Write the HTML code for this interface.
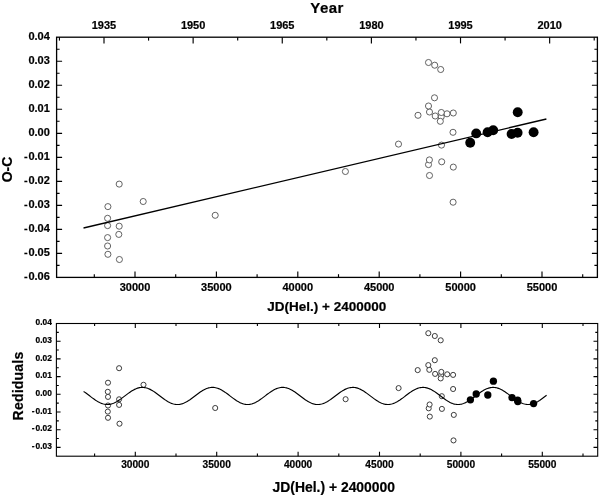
<!DOCTYPE html><html><head><meta charset="utf-8"><title>O-C diagram</title><style>html,body{margin:0;padding:0;background:#fff}svg{display:block}text{font-family:"Liberation Sans",Arial,sans-serif;font-weight:bold;fill:#000;stroke:#000;stroke-width:0.2px;stroke-linejoin:round}</style></head><body>
<svg width="600" height="496" viewBox="0 0 600 496">
<rect width="600" height="496" fill="#fff"/>
<g stroke="#000" stroke-width="1.3" fill="none" stroke-linecap="butt">
<rect x="56.6" y="37.2" width="540.8" height="240.2"/>
<path stroke-width="1.15" d="M56.6 265.41h3M597.4 265.41h-3"/>
<path stroke-width="1.15" d="M56.6 253.40h5.5M597.4 253.40h-5.5"/>
<path stroke-width="1.15" d="M56.6 241.39h3M597.4 241.39h-3"/>
<path stroke-width="1.15" d="M56.6 229.38h5.5M597.4 229.38h-5.5"/>
<path stroke-width="1.15" d="M56.6 217.37h3M597.4 217.37h-3"/>
<path stroke-width="1.15" d="M56.6 205.36h5.5M597.4 205.36h-5.5"/>
<path stroke-width="1.15" d="M56.6 193.35h3M597.4 193.35h-3"/>
<path stroke-width="1.15" d="M56.6 181.34h5.5M597.4 181.34h-5.5"/>
<path stroke-width="1.15" d="M56.6 169.33h3M597.4 169.33h-3"/>
<path stroke-width="1.15" d="M56.6 157.32h5.5M597.4 157.32h-5.5"/>
<path stroke-width="1.15" d="M56.6 145.31h3M597.4 145.31h-3"/>
<path stroke-width="1.15" d="M56.6 133.30h5.5M597.4 133.30h-5.5"/>
<path stroke-width="1.15" d="M56.6 121.29h3M597.4 121.29h-3"/>
<path stroke-width="1.15" d="M56.6 109.28h5.5M597.4 109.28h-5.5"/>
<path stroke-width="1.15" d="M56.6 97.27h3M597.4 97.27h-3"/>
<path stroke-width="1.15" d="M56.6 85.26h5.5M597.4 85.26h-5.5"/>
<path stroke-width="1.15" d="M56.6 73.25h3M597.4 73.25h-3"/>
<path stroke-width="1.15" d="M56.6 61.24h5.5M597.4 61.24h-5.5"/>
<path stroke-width="1.15" d="M56.6 49.23h3M597.4 49.23h-3"/>
<path stroke-width="1.15" d="M94.30 277.4v-3.2"/>
<path stroke-width="1.15" d="M135.00 277.4v-6"/>
<path stroke-width="1.15" d="M175.70 277.4v-3.2"/>
<path stroke-width="1.15" d="M216.40 277.4v-6"/>
<path stroke-width="1.15" d="M257.10 277.4v-3.2"/>
<path stroke-width="1.15" d="M297.80 277.4v-6"/>
<path stroke-width="1.15" d="M338.50 277.4v-3.2"/>
<path stroke-width="1.15" d="M379.20 277.4v-6"/>
<path stroke-width="1.15" d="M419.90 277.4v-3.2"/>
<path stroke-width="1.15" d="M460.60 277.4v-6"/>
<path stroke-width="1.15" d="M501.30 277.4v-3.2"/>
<path stroke-width="1.15" d="M542.00 277.4v-6"/>
<path stroke-width="1.15" d="M582.70 277.4v-3.2"/>
<path stroke-width="1.15" d="M59.44 37.2v3.4"/>
<path stroke-width="1.15" d="M104.00 37.2v6.2"/>
<path stroke-width="1.15" d="M148.56 37.2v3.4"/>
<path stroke-width="1.15" d="M193.13 37.2v6.2"/>
<path stroke-width="1.15" d="M237.69 37.2v3.4"/>
<path stroke-width="1.15" d="M282.26 37.2v6.2"/>
<path stroke-width="1.15" d="M326.82 37.2v3.4"/>
<path stroke-width="1.15" d="M371.39 37.2v6.2"/>
<path stroke-width="1.15" d="M415.95 37.2v3.4"/>
<path stroke-width="1.15" d="M460.52 37.2v6.2"/>
<path stroke-width="1.15" d="M505.08 37.2v3.4"/>
<path stroke-width="1.15" d="M549.65 37.2v6.2"/>
<path stroke-width="1.15" d="M594.21 37.2v3.4"/>
</g>
<text x="49.8" y="280.37" font-size="11.0" text-anchor="end"><tspan>-</tspan><tspan dx="0.7">0.06</tspan></text>
<text x="49.8" y="256.33" font-size="11.0" text-anchor="end"><tspan>-</tspan><tspan dx="0.7">0.05</tspan></text>
<text x="49.8" y="232.28" font-size="11.0" text-anchor="end"><tspan>-</tspan><tspan dx="0.7">0.04</tspan></text>
<text x="49.8" y="208.24" font-size="11.0" text-anchor="end"><tspan>-</tspan><tspan dx="0.7">0.03</tspan></text>
<text x="49.8" y="184.19" font-size="11.0" text-anchor="end"><tspan>-</tspan><tspan dx="0.7">0.02</tspan></text>
<text x="49.8" y="160.15" font-size="11.0" text-anchor="end"><tspan>-</tspan><tspan dx="0.7">0.01</tspan></text>
<text x="49.8" y="136.10" font-size="11.0" text-anchor="end">0.00</text>
<text x="49.8" y="112.06" font-size="11.0" text-anchor="end">0.01</text>
<text x="49.8" y="88.01" font-size="11.0" text-anchor="end">0.02</text>
<text x="49.8" y="63.97" font-size="11.0" text-anchor="end">0.03</text>
<text x="49.8" y="39.92" font-size="11.0" text-anchor="end">0.04</text>
<text x="135.00" y="291.3" font-size="11.0" text-anchor="middle">30000</text>
<text x="216.40" y="291.3" font-size="11.0" text-anchor="middle">35000</text>
<text x="297.80" y="291.3" font-size="11.0" text-anchor="middle">40000</text>
<text x="379.20" y="291.3" font-size="11.0" text-anchor="middle">45000</text>
<text x="460.60" y="291.3" font-size="11.0" text-anchor="middle">50000</text>
<text x="542.00" y="291.3" font-size="11.0" text-anchor="middle">55000</text>
<text x="104.00" y="28.6" font-size="11.0" text-anchor="middle">1935</text>
<text x="193.13" y="28.6" font-size="11.0" text-anchor="middle">1950</text>
<text x="282.26" y="28.6" font-size="11.0" text-anchor="middle">1965</text>
<text x="371.39" y="28.6" font-size="11.0" text-anchor="middle">1980</text>
<text x="460.52" y="28.6" font-size="11.0" text-anchor="middle">1995</text>
<text x="549.65" y="28.6" font-size="11.0" text-anchor="middle">2010</text>
<text x="327" y="12.8" font-size="15" letter-spacing="0.4" text-anchor="middle">Year</text>
<text x="326.8" y="311.2" font-size="13.5" text-anchor="middle">JD(Hel.) + 2400000</text>
<text transform="translate(12.2,169.5) rotate(-90)" font-size="14" text-anchor="middle">O-C</text>
<g stroke="#484848" stroke-width="0.85" fill="#fff">
<circle cx="441.2" cy="116.8" r="3.05"/>
<circle cx="119.4" cy="259.5" r="3.05"/>
<circle cx="107.9" cy="254.3" r="3.05"/>
<circle cx="107.6" cy="246" r="3.05"/>
<circle cx="107.6" cy="237.6" r="3.05"/>
<circle cx="118.8" cy="234.4" r="3.05"/>
<circle cx="119.2" cy="226.2" r="3.05"/>
<circle cx="107.6" cy="225.6" r="3.05"/>
<circle cx="107.6" cy="218.3" r="3.05"/>
<circle cx="215.2" cy="215.3" r="3.05"/>
<circle cx="107.9" cy="206.6" r="3.05"/>
<circle cx="453.1" cy="202.2" r="3.05"/>
<circle cx="143.2" cy="201.5" r="3.05"/>
<circle cx="119.2" cy="184.1" r="3.05"/>
<circle cx="429.5" cy="175.5" r="3.05"/>
<circle cx="345.4" cy="171.5" r="3.05"/>
<circle cx="453.3" cy="167.1" r="3.05"/>
<circle cx="428.5" cy="164.6" r="3.05"/>
<circle cx="441.7" cy="161.8" r="3.05"/>
<circle cx="429.4" cy="159.9" r="3.05"/>
<circle cx="441.5" cy="145.1" r="3.05"/>
<circle cx="398.5" cy="144.1" r="3.05"/>
<circle cx="453" cy="132.3" r="3.05"/>
<circle cx="440.3" cy="121.3" r="3.05"/>
<circle cx="435.2" cy="116" r="3.05"/>
<circle cx="418" cy="115.3" r="3.05"/>
<circle cx="447" cy="113.8" r="3.05"/>
<circle cx="453.3" cy="113" r="3.05"/>
<circle cx="441.3" cy="112.5" r="3.05"/>
<circle cx="429.5" cy="112" r="3.05"/>
<circle cx="428.5" cy="106" r="3.05"/>
<circle cx="434.5" cy="97.8" r="3.05"/>
<circle cx="440.7" cy="69.5" r="3.05"/>
<circle cx="434.7" cy="65.2" r="3.05"/>
<circle cx="428.5" cy="62.5" r="3.05"/>
</g>
<path d="M83.5 228L546.4 119" stroke="#000" stroke-width="1.35" fill="none"/>
<g fill="#000">
<circle cx="470.2" cy="142.8" r="4.95"/>
<circle cx="476.2" cy="133.4" r="4.95"/>
<circle cx="487.6" cy="132.2" r="4.95"/>
<circle cx="493.2" cy="130.2" r="4.95"/>
<circle cx="511.6" cy="134" r="4.95"/>
<circle cx="517.6" cy="132.8" r="4.95"/>
<circle cx="517.7" cy="112.2" r="4.95"/>
<circle cx="533.6" cy="132.2" r="4.95"/>
</g>
<g stroke="#000" stroke-width="1.1" fill="none">
<rect x="56.4" y="323.5" width="541.3000000000001" height="132.7"/>
<path d="M56.4 447.40h4.2M597.7 447.40h-4.2"/>
<path d="M56.4 438.55h2.4M597.7 438.55h-2.4"/>
<path d="M56.4 429.70h4.2M597.7 429.70h-4.2"/>
<path d="M56.4 420.85h2.4M597.7 420.85h-2.4"/>
<path d="M56.4 412.00h4.2M597.7 412.00h-4.2"/>
<path d="M56.4 403.15h2.4M597.7 403.15h-2.4"/>
<path d="M56.4 394.30h4.2M597.7 394.30h-4.2"/>
<path d="M56.4 385.45h2.4M597.7 385.45h-2.4"/>
<path d="M56.4 376.60h4.2M597.7 376.60h-4.2"/>
<path d="M56.4 367.75h2.4M597.7 367.75h-2.4"/>
<path d="M56.4 358.90h4.2M597.7 358.90h-4.2"/>
<path d="M56.4 350.05h2.4M597.7 350.05h-2.4"/>
<path d="M56.4 341.20h4.2M597.7 341.20h-4.2"/>
<path d="M56.4 332.35h2.4M597.7 332.35h-2.4"/>
<path d="M94.60 456.2v-2.6M94.60 323.5v2.6"/>
<path d="M135.30 456.2v-4.4M135.30 323.5v4.4"/>
<path d="M176.00 456.2v-2.6M176.00 323.5v2.6"/>
<path d="M216.70 456.2v-4.4M216.70 323.5v4.4"/>
<path d="M257.40 456.2v-2.6M257.40 323.5v2.6"/>
<path d="M298.10 456.2v-4.4M298.10 323.5v4.4"/>
<path d="M338.80 456.2v-2.6M338.80 323.5v2.6"/>
<path d="M379.50 456.2v-4.4M379.50 323.5v4.4"/>
<path d="M420.20 456.2v-2.6M420.20 323.5v2.6"/>
<path d="M460.90 456.2v-4.4M460.90 323.5v4.4"/>
<path d="M501.60 456.2v-2.6M501.60 323.5v2.6"/>
<path d="M542.30 456.2v-4.4M542.30 323.5v4.4"/>
<path d="M583.00 456.2v-2.6M583.00 323.5v2.6"/>
</g>
<text x="51.8" y="449.15" font-size="8.4" text-anchor="end"><tspan>-</tspan><tspan dx="0.9">0.03</tspan></text>
<text x="51.8" y="431.45" font-size="8.4" text-anchor="end"><tspan>-</tspan><tspan dx="0.9">0.02</tspan></text>
<text x="51.8" y="413.75" font-size="8.4" text-anchor="end"><tspan>-</tspan><tspan dx="0.9">0.01</tspan></text>
<text x="51.8" y="396.05" font-size="8.4" text-anchor="end">0.00</text>
<text x="51.8" y="378.35" font-size="8.4" text-anchor="end">0.01</text>
<text x="51.8" y="360.65" font-size="8.4" text-anchor="end">0.02</text>
<text x="51.8" y="342.95" font-size="8.4" text-anchor="end">0.03</text>
<text x="51.8" y="325.25" font-size="8.4" text-anchor="end">0.04</text>
<text x="135.30" y="468.4" font-size="10.2" text-anchor="middle">30000</text>
<text x="216.70" y="468.4" font-size="10.2" text-anchor="middle">35000</text>
<text x="298.10" y="468.4" font-size="10.2" text-anchor="middle">40000</text>
<text x="379.50" y="468.4" font-size="10.2" text-anchor="middle">45000</text>
<text x="460.90" y="468.4" font-size="10.2" text-anchor="middle">50000</text>
<text x="542.30" y="468.4" font-size="10.2" text-anchor="middle">55000</text>
<text x="333.8" y="492.2" font-size="13.9" text-anchor="middle">JD(Hel.) + 2400000</text>
<text transform="translate(23.2,386) rotate(-90)" font-size="14" letter-spacing="0.22" text-anchor="middle">Rediduals</text>
<g stroke="#333" stroke-width="0.95" fill="#fff">
<circle cx="441.1" cy="375.1" r="2.55"/>
<circle cx="453.5" cy="440.4" r="2.55"/>
<circle cx="119.5" cy="423.7" r="2.55"/>
<circle cx="108" cy="417.8" r="2.55"/>
<circle cx="429.8" cy="416.6" r="2.55"/>
<circle cx="453.8" cy="414.9" r="2.55"/>
<circle cx="107.8" cy="411.6" r="2.55"/>
<circle cx="441.9" cy="408.9" r="2.55"/>
<circle cx="428.7" cy="408.3" r="2.55"/>
<circle cx="215.2" cy="408" r="2.55"/>
<circle cx="108" cy="405.5" r="2.55"/>
<circle cx="119.1" cy="404.9" r="2.55"/>
<circle cx="429.6" cy="404.5" r="2.55"/>
<circle cx="119.1" cy="399.3" r="2.55"/>
<circle cx="345.6" cy="399.2" r="2.55"/>
<circle cx="108" cy="396.9" r="2.55"/>
<circle cx="441.8" cy="396.2" r="2.55"/>
<circle cx="107.8" cy="391.8" r="2.55"/>
<circle cx="453.1" cy="389" r="2.55"/>
<circle cx="398.6" cy="388.1" r="2.55"/>
<circle cx="143.5" cy="384.8" r="2.55"/>
<circle cx="108" cy="382.7" r="2.55"/>
<circle cx="440.7" cy="378.4" r="2.55"/>
<circle cx="453.1" cy="374.9" r="2.55"/>
<circle cx="447.2" cy="374.3" r="2.55"/>
<circle cx="435.1" cy="373.9" r="2.55"/>
<circle cx="441.3" cy="371.9" r="2.55"/>
<circle cx="417.7" cy="370.1" r="2.55"/>
<circle cx="429.3" cy="369.8" r="2.55"/>
<circle cx="119.1" cy="368.2" r="2.55"/>
<circle cx="428.3" cy="365.1" r="2.55"/>
<circle cx="434.8" cy="360.2" r="2.55"/>
<circle cx="440.7" cy="340.3" r="2.55"/>
<circle cx="434.8" cy="336" r="2.55"/>
<circle cx="428.3" cy="333.2" r="2.55"/>
</g>
<path d="M83.6 391.47L84.6 392.14L85.6 392.84L86.6 393.56L87.6 394.30L88.6 395.06L89.6 395.83L90.6 396.59L91.6 397.35L92.6 398.10L93.6 398.83L94.6 399.54L95.6 400.22L96.6 400.86L97.6 401.47L98.6 402.03L99.6 402.55L100.6 403.01L101.6 403.41L102.6 403.75L103.6 404.03L104.6 404.25L105.6 404.40L106.6 404.48L107.6 404.50L108.6 404.44L109.6 404.32L110.6 404.13L111.6 403.87L112.6 403.55L113.6 403.17L114.6 402.74L115.6 402.24L116.6 401.70L117.6 401.11L118.6 400.48L119.6 399.82L120.6 399.12L121.6 398.39L122.6 397.65L123.6 396.90L124.6 396.13L125.6 395.37L126.6 394.61L127.6 393.86L128.6 393.12L129.6 392.41L130.6 391.73L131.6 391.08L132.6 390.47L133.6 389.91L134.6 389.39L135.6 388.93L136.6 388.52L137.6 388.17L138.6 387.88L139.6 387.66L140.6 387.51L141.6 387.42L142.6 387.40L143.6 387.45L144.6 387.57L145.6 387.75L146.6 388.00L147.6 388.32L148.6 388.69L149.6 389.13L150.6 389.62L151.6 390.16L152.6 390.74L153.6 391.37L154.6 392.03L155.6 392.73L156.6 393.45L157.6 394.19L158.6 394.95L159.6 395.71L160.6 396.48L161.6 397.24L162.6 397.99L163.6 398.72L164.6 399.44L165.6 400.12L166.6 400.77L167.6 401.38L168.6 401.95L169.6 402.47L170.6 402.94L171.6 403.35L172.6 403.71L173.6 404.00L174.6 404.22L175.6 404.38L176.6 404.48L177.6 404.50L178.6 404.45L179.6 404.34L180.6 404.16L181.6 403.92L182.6 403.61L183.6 403.24L184.6 402.81L185.6 402.32L186.6 401.79L187.6 401.20L188.6 400.58L189.6 399.92L190.6 399.22L191.6 398.50L192.6 397.76L193.6 397.01L194.6 396.25L195.6 395.48L196.6 394.72L197.6 393.97L198.6 393.23L199.6 392.52L200.6 391.83L201.6 391.18L202.6 390.56L203.6 389.99L204.6 389.47L205.6 388.99L206.6 388.58L207.6 388.22L208.6 387.92L209.6 387.69L210.6 387.53L211.6 387.43L212.6 387.40L213.6 387.44L214.6 387.55L215.6 387.72L216.6 387.96L217.6 388.27L218.6 388.63L219.6 389.06L220.6 389.54L221.6 390.07L222.6 390.65L223.6 391.27L224.6 391.93L225.6 392.62L226.6 393.34L227.6 394.08L228.6 394.83L229.6 395.60L230.6 396.36L231.6 397.12L232.6 397.88L233.6 398.61L234.6 399.33L235.6 400.02L236.6 400.68L237.6 401.29L238.6 401.87L239.6 402.40L240.6 402.87L241.6 403.29L242.6 403.66L243.6 403.96L244.6 404.19L245.6 404.36L246.6 404.47L247.6 404.50L248.6 404.47L249.6 404.36L250.6 404.19L251.6 403.96L252.6 403.66L253.6 403.29L254.6 402.87L255.6 402.40L256.6 401.87L257.6 401.29L258.6 400.68L259.6 400.02L260.6 399.33L261.6 398.61L262.6 397.88L263.6 397.12L264.6 396.36L265.6 395.60L266.6 394.83L267.6 394.08L268.6 393.34L269.6 392.62L270.6 391.93L271.6 391.27L272.6 390.65L273.6 390.07L274.6 389.54L275.6 389.06L276.6 388.63L277.6 388.27L278.6 387.96L279.6 387.72L280.6 387.55L281.6 387.44L282.6 387.40L283.6 387.43L284.6 387.53L285.6 387.69L286.6 387.92L287.6 388.22L288.6 388.58L289.6 388.99L290.6 389.47L291.6 389.99L292.6 390.56L293.6 391.18L294.6 391.83L295.6 392.52L296.6 393.23L297.6 393.97L298.6 394.72L299.6 395.48L300.6 396.25L301.6 397.01L302.6 397.76L303.6 398.50L304.6 399.22L305.6 399.92L306.6 400.58L307.6 401.20L308.6 401.79L309.6 402.32L310.6 402.81L311.6 403.24L312.6 403.61L313.6 403.92L314.6 404.16L315.6 404.34L316.6 404.45L317.6 404.50L318.6 404.48L319.6 404.38L320.6 404.22L321.6 404.00L322.6 403.71L323.6 403.35L324.6 402.94L325.6 402.47L326.6 401.95L327.6 401.38L328.6 400.77L329.6 400.12L330.6 399.44L331.6 398.72L332.6 397.99L333.6 397.24L334.6 396.48L335.6 395.71L336.6 394.95L337.6 394.19L338.6 393.45L339.6 392.73L340.6 392.03L341.6 391.37L342.6 390.74L343.6 390.16L344.6 389.62L345.6 389.13L346.6 388.69L347.6 388.32L348.6 388.00L349.6 387.75L350.6 387.57L351.6 387.45L352.6 387.40L353.6 387.42L354.6 387.51L355.6 387.66L356.6 387.88L357.6 388.17L358.6 388.52L359.6 388.93L360.6 389.39L361.6 389.91L362.6 390.47L363.6 391.08L364.6 391.73L365.6 392.41L366.6 393.12L367.6 393.86L368.6 394.61L369.6 395.37L370.6 396.13L371.6 396.90L372.6 397.65L373.6 398.39L374.6 399.12L375.6 399.82L376.6 400.48L377.6 401.11L378.6 401.70L379.6 402.24L380.6 402.74L381.6 403.17L382.6 403.55L383.6 403.87L384.6 404.13L385.6 404.32L386.6 404.44L387.6 404.50L388.6 404.48L389.6 404.40L390.6 404.25L391.6 404.03L392.6 403.75L393.6 403.41L394.6 403.01L395.6 402.55L396.6 402.03L397.6 401.47L398.6 400.86L399.6 400.22L400.6 399.54L401.6 398.83L402.6 398.10L403.6 397.35L404.6 396.59L405.6 395.83L406.6 395.06L407.6 394.30L408.6 393.56L409.6 392.84L410.6 392.14L411.6 391.47L412.6 390.83L413.6 390.24L414.6 389.69L415.6 389.20L416.6 388.76L417.6 388.37L418.6 388.05L419.6 387.79L420.6 387.59L421.6 387.46L422.6 387.40L423.6 387.41L424.6 387.49L425.6 387.64L426.6 387.85L427.6 388.12L428.6 388.46L429.6 388.86L430.6 389.32L431.6 389.83L432.6 390.39L433.6 390.99L434.6 391.63L435.6 392.31L436.6 393.01L437.6 393.74L438.6 394.49L439.6 395.25L440.6 396.02L441.6 396.78L442.6 397.54L443.6 398.28L444.6 399.01L445.6 399.71L446.6 400.38L447.6 401.02L448.6 401.62L449.6 402.17L450.6 402.67L451.6 403.11L452.6 403.50L453.6 403.83L454.6 404.10L455.6 404.29L456.6 404.43L457.6 404.49L458.6 404.49L459.6 404.42L460.6 404.28L461.6 404.07L462.6 403.80L463.6 403.47L464.6 403.07L465.6 402.62L466.6 402.11L467.6 401.56L468.6 400.96L469.6 400.32L470.6 399.64L471.6 398.94L472.6 398.21L473.6 397.46L474.6 396.71L475.6 395.94L476.6 395.18L477.6 394.42L478.6 393.67L479.6 392.94L480.6 392.24L481.6 391.56L482.6 390.93L483.6 390.33L484.6 389.77L485.6 389.27L486.6 388.82L487.6 388.43L488.6 388.09L489.6 387.82L490.6 387.62L491.6 387.48L492.6 387.41L493.6 387.41L494.6 387.47L495.6 387.61L496.6 387.81L497.6 388.08L498.6 388.41L499.6 388.80L500.6 389.25L501.6 389.75L502.6 390.30L503.6 390.90L504.6 391.53L505.6 392.20L506.6 392.91L507.6 393.63L508.6 394.38L509.6 395.14L510.6 395.90L511.6 396.67L512.6 397.43L513.6 398.17L514.6 398.90L515.6 399.61L516.6 400.29L517.6 400.93L518.6 401.53L519.6 402.09L520.6 402.59L521.6 403.05L522.6 403.45L523.6 403.78L524.6 404.06L525.6 404.27L526.6 404.41L527.6 404.49L528.6 404.49L529.6 404.43L530.6 404.30L531.6 404.11L532.6 403.84L533.6 403.52L534.6 403.13L535.6 402.69L536.6 402.19L537.6 401.64L538.6 401.05L539.6 400.42L540.6 399.75L541.6 399.05L542.6 398.32L543.6 397.58L544.6 396.82L545.6 396.06L546.6 395.29" stroke="#000" stroke-width="1.15" fill="none"/>
<g fill="#000">
<circle cx="470.4" cy="399.8" r="3.65"/>
<circle cx="476.2" cy="394" r="3.65"/>
<circle cx="487.8" cy="395" r="3.65"/>
<circle cx="493.4" cy="381.2" r="3.65"/>
<circle cx="512" cy="397.6" r="3.65"/>
<circle cx="517.6" cy="400.2" r="3.65"/>
<circle cx="517.8" cy="401.5" r="3.65"/>
<circle cx="533.6" cy="403.6" r="3.65"/>
</g>
</svg></body></html>
